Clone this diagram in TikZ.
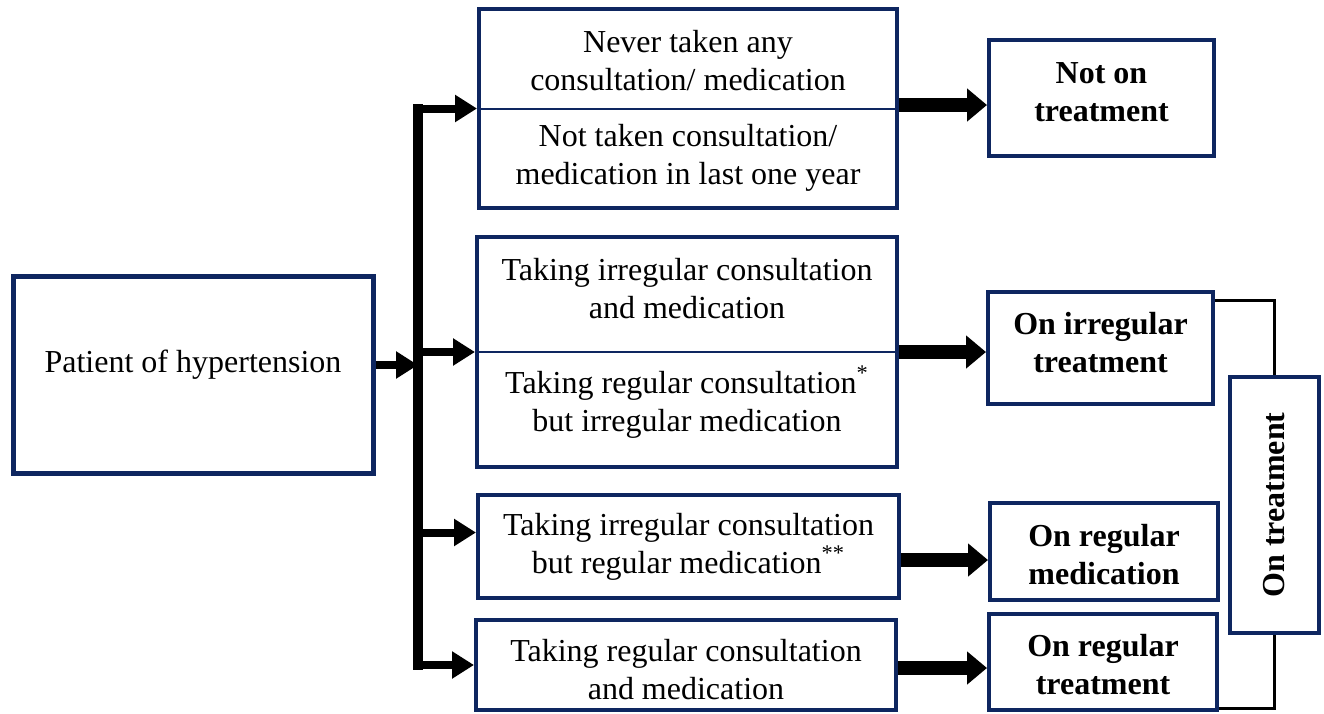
\documentclass[tikz,border=0pt]{standalone}
\usepackage{fontspec}
\setmainfont{Liberation Serif}
\usetikzlibrary{arrows.meta}
\definecolor{navy}{RGB}{14,38,96}
\begin{document}
\begin{tikzpicture}[x=0.5pt,y=-0.5pt,
  box/.style={draw=navy, line width=2pt, fill=white, inner sep=0pt, align=center, font=\fontsize{16}{19}\selectfont},
  bbox/.style={box, font=\fontsize{16}{19}\selectfont\bfseries},
  txt/.style={inner sep=0pt, align=center, font=\fontsize{16}{19}\selectfont},
  btxt/.style={txt, font=\fontsize{16}{19}\selectfont\bfseries},
  divider/.style={draw=navy, line width=1pt},
  larr/.style={line width=4pt, -{Triangle[length=11pt,width=13pt]}},
  rarr/.style={line width=7pt, -{Triangle[length=10pt,width=16pt]}},
  brk/.style={line width=1.5pt}
]
\useasboundingbox (0,0) rectangle (1324,713);

% left box
\node[box, line width=2.5pt, minimum width=180pt, minimum height=98.5pt] (pat) at (193,374.5) {};
\node[txt] (patt) at (193,365) {Patient of hypertension};

% middle boxes
\node[box, minimum width=209pt, minimum height=99.5pt] (b1) at (688,108.5) {};
\draw[divider] (b1.west) -- (b1.east);
\node[txt] (b1a) at (688,61) {Never taken any\\consultation/ medication};
\node[txt] (b1b) at (688,157.5) {Not taken consultation/\\medication in last one year};

\node[box, minimum width=210pt, minimum height=115pt] (b2) at (687,352) {};
\draw[divider] (b2.west) -- (b2.east);
\node[txt] (b2a) at (687,289) {Taking irregular consultation\\and medication};
\node[txt] (b2b) at (687,402) {Taking regular consultation\textsuperscript{*}\\but irregular medication};

\node[box, minimum width=210.5pt, minimum height=51.5pt] (b3) at (688.5,546.5) {Taking irregular consultation\\but regular medication\textsuperscript{**}};

\node[box, minimum width=210pt, minimum height=45pt] (b4) at (686,665) {};
\node[txt] (b4t) at (686,670) {Taking regular consultation\\and medication};

% right boxes
\node[box, minimum width=112.5pt, minimum height=58pt] (r1) at (1101.5,98) {};
\node[btxt] (r1t) at (1101.5,92.5) {Not on\\treatment};
\node[box, minimum width=112.5pt, minimum height=56pt] (r2) at (1100.5,348) {};
\node[btxt] (r2t) at (1100.5,342.5) {On irregular\\treatment};
\node[box, minimum width=114pt, minimum height=48.5pt] (r3) at (1104,551.5) {};
\node[btxt] (r3t) at (1104,554.5) {On regular\\medication};
\node[box, minimum width=114pt, minimum height=48pt] (r4) at (1103,662) {};
\node[btxt] (r4t) at (1103,665) {On regular\\treatment};
\node[bbox, minimum width=44.5pt, minimum height=128pt] (ot) at (1274,505) {\rotatebox{90}{On treatment}};

% trunk and branches
\coordinate (tx) at (418,0);
\draw[line width=5pt, line cap=rect] (b1.west -| tx) -- (b4.west -| tx);
\draw[larr] ([yshift=4.75pt]pat.east) -- ([yshift=4.75pt]pat.east -| tx);
\draw[larr] (b1.west -| tx) -- (b1.west);
\draw[larr] (b2.west -| tx) -- (b2.west);
\draw[larr] ([yshift=7pt]b3.west -| tx) -- ([yshift=7pt]b3.west);
\draw[larr] (b4.west -| tx) -- (b4.west);

% right arrows
\draw[rarr] ([yshift=1.75pt]b1.east) -- ([yshift=1.75pt]b1.east -| r1.west);
\draw[rarr] (b2.east) -- (b2.east -| r2.west);
\draw[rarr] ([yshift=-6.75pt]b3.east) -- ([yshift=-6.75pt]b3.east -| r3.west);
\draw[rarr] ([yshift=-1.5pt]b4.east) -- ([yshift=-1.5pt]b4.east -| r4.west);

% bracket
\draw[brk] ([yshift=-5pt]r2.north east) -| (ot.north);
\draw[brk] ([yshift=2pt]r4.south east) -| (ot.south);
\end{tikzpicture}
\end{document}
